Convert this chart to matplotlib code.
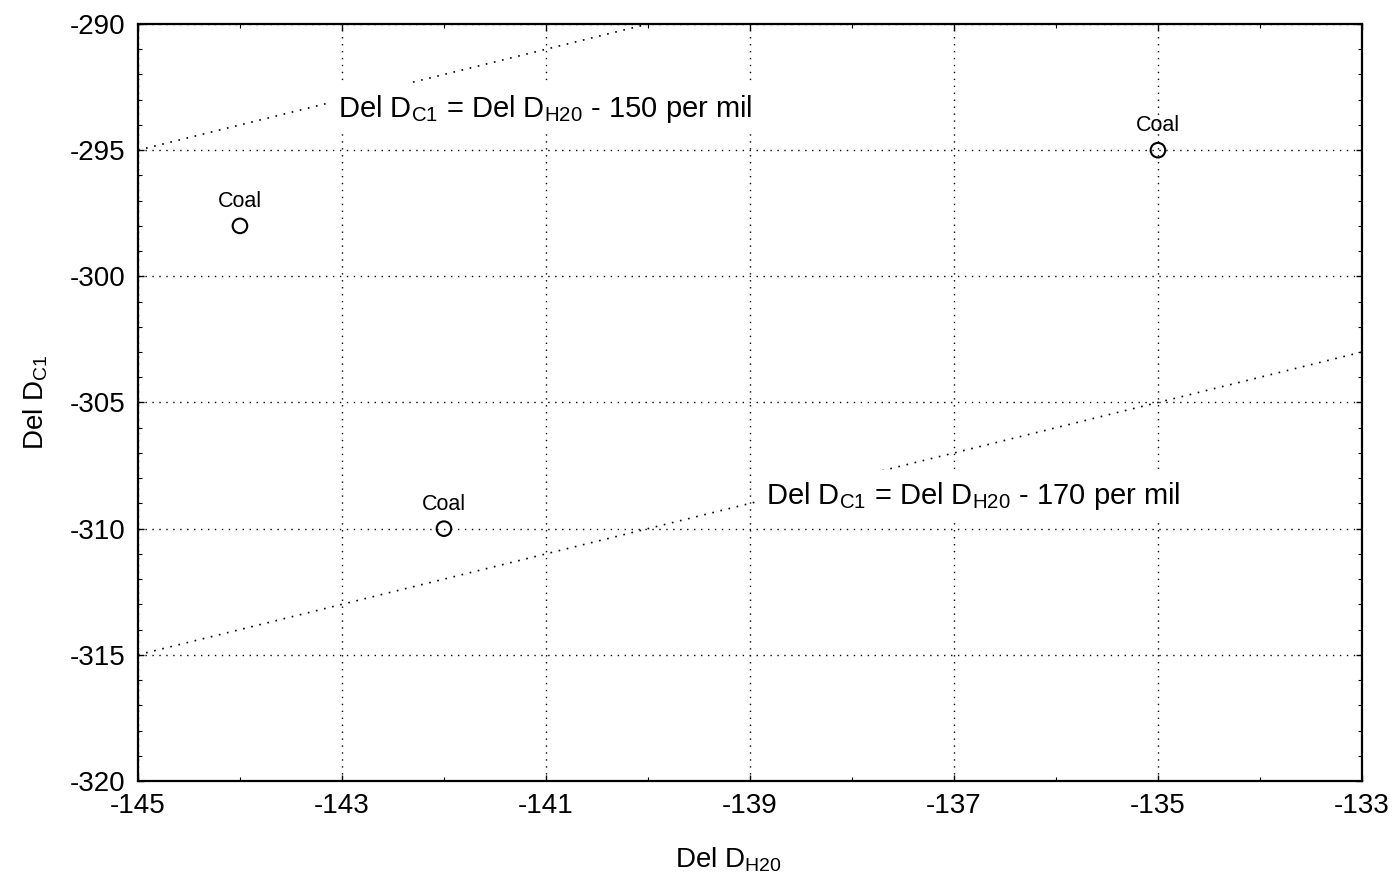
import matplotlib
matplotlib.use("Agg")
import matplotlib.pyplot as plt
from matplotlib.ticker import MultipleLocator
import numpy as np

plt.rcParams['font.family'] = ['Liberation Sans', 'DejaVu Sans']
plt.rcParams['axes.unicode_minus'] = False

# Sample isotope values (per mil)
del_d_h2o = [-144, -142, -135]
del_d_c1 = [-298, -310, -295]
sample_labels = ["Coal", "Coal", "Coal"]

# Fractionation reference lines: Del D_C1 = Del D_H2O - offset
offsets = [150, 170]
offset_label_pos = [(-143.04, -293.35), (-138.84, -308.7)]

x_range = (-145, -133)
y_range = (-320, -290)
x_ticks = [-145, -143, -141, -139, -137, -135, -133]
y_ticks = [-320, -315, -310, -305, -300, -295, -290]

fig = plt.figure(figsize=(13.92, 8.77), dpi=100)
ax = fig.add_axes([0.0991, 0.1095, 0.8793, 0.8631])

ax.set_xlim(*x_range)
ax.set_ylim(*y_range)
ax.set_xticks(x_ticks)
ax.set_yticks(y_ticks)
ax.xaxis.set_minor_locator(MultipleLocator(1))
ax.yaxis.set_minor_locator(MultipleLocator(1))
ax.tick_params(which='both', direction='in', top=True, right=True,
               labelsize=20, color='black')
ax.tick_params(which='major', length=4, width=1, pad=9)
ax.tick_params(which='minor', length=3, width=0.8)
for sp in ax.spines.values():
    sp.set_linewidth(1.6)
    sp.set_color('black')

dots = (0, (1, 4))
ax.grid(True, which='major', linestyle=dots, color='black', linewidth=1.0)
ax.set_axisbelow(True)

xs = np.array(x_range, dtype=float)
for off, (tx, ty) in zip(offsets, offset_label_pos):
    ax.plot(xs, xs - off, linestyle=dots, color='black', linewidth=1.2,
            zorder=2, clip_on=True)
    ax.text(tx, ty,
            r"Del D$_{\mathregular{C1}}$ = Del D$_{\mathregular{H20}}$ - %d per mil" % off,
            fontsize=21, ha='left', va='center', zorder=3,
            bbox=dict(facecolor='white', edgecolor='none', pad=7))

ax.scatter(del_d_h2o, del_d_c1, s=110, facecolors='none', edgecolors='black',
           linewidths=1.5, zorder=4)
for x, y, lab in zip(del_d_h2o, del_d_c1, sample_labels):
    ax.annotate(lab, (x, y), xytext=(0, 10), textcoords='offset points',
                ha='center', va='bottom', fontsize=15.5, zorder=5)

ax.set_xlabel(r"Del D$_{\mathregular{H20}}$", fontsize=20)
ax.xaxis.set_label_coords(0.482, -0.085, transform=ax.transAxes)
ax.set_ylabel(r"Del D$_{\mathregular{C1}}$", fontsize=20, labelpad=14)

fig.savefig("out.png", dpi=100, facecolor='white')
